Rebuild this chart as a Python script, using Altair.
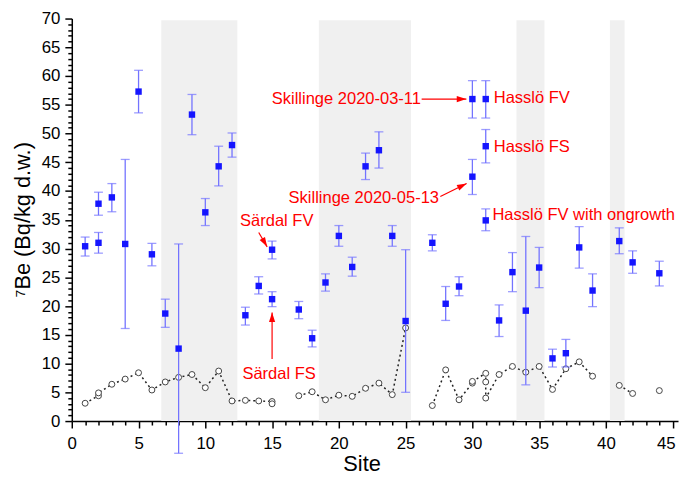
import altair as alt
import pandas as pd

# ---- 7Be activity (blue squares with uncertainty) ----
b_site = [1, 2, 2, 3, 4, 5, 6, 7, 8, 9, 10, 11, 12, 13, 14, 15, 15, 17, 18, 19, 20, 21, 22, 23, 24, 25,
          27, 28, 29, 30, 30, 31, 31, 31, 32, 33, 34, 35, 36, 37, 38, 39, 41, 42, 44]
b_val = [30.4, 37.8, 31.0, 38.9, 30.8, 57.3, 29.0, 18.7, 12.6, 53.3, 36.3, 44.3, 48.0, 18.4, 23.5, 29.8, 21.2,
         19.4, 14.4, 24.1, 32.2, 26.8, 44.3, 47.1, 32.2, 17.4, 31.0, 20.4, 23.4, 56.0, 42.5, 56.0, 47.8, 34.9,
         17.5, 25.9, 19.2, 26.7, 10.9, 11.8, 30.2, 22.7, 31.3, 27.6, 25.7]
b_lo = [28.7, 35.8, 29.2, 36.4, 16.1, 53.6, 27.0, 16.3, -5.6, 49.8, 34.0, 40.9, 45.9, 16.7, 22.1, 28.2, 19.9,
        17.8, 12.9, 22.6, 30.4, 25.2, 42.0, 44.0, 30.4, 5.0, 29.6, 17.5, 21.8, 52.7, 39.4, 52.7, 44.9, 33.1,
        14.7, 22.5, 6.3, 23.2, 9.4, 9.4, 26.6, 19.9, 29.1, 25.7, 23.5]
b_hi = [32.0, 39.8, 32.8, 41.3, 45.5, 61.0, 30.9, 21.2, 30.8, 56.8, 38.7, 47.8, 50.1, 19.8, 25.1, 31.3, 22.5,
        20.8, 15.8, 25.6, 34.0, 28.5, 46.6, 50.3, 34.0, 29.8, 32.4, 23.4, 25.1, 59.2, 45.5, 59.2, 50.7, 36.9,
        20.2, 29.3, 32.1, 30.2, 12.5, 14.2, 33.8, 25.6, 33.6, 29.6, 27.8]

# ---- open circles joined by dotted line ----
c_site = [1, 2, 2, 3, 4, 5, 6, 7, 8, 9, 10, 11, 12, 13, 14, 15, 15,
          17, 18, 19, 20, 21, 22, 23, 24, 25,
          27, 28, 29, 30, 30, 31, 31, 31, 32, 33, 34, 35, 36, 37, 38, 39,
          41, 42,
          44]
c_val = [3.1, 4.4, 4.9, 6.4, 7.3, 8.4, 5.4, 6.8, 7.6, 8.1, 5.8, 8.7, 3.5, 3.6, 3.5, 3.4, 3.0,
         4.4, 5.1, 3.7, 4.5, 4.3, 5.7, 6.6, 4.6, 16.2,
         2.7, 8.9, 3.7, 6.6, 6.9, 8.3, 6.8, 4.0, 8.1, 9.5, 8.5, 9.5, 5.5, 9.1, 10.3, 7.8,
         6.2, 4.8,
         5.3]
c_seg = ["A"] * 17 + ["B"] * 9 + ["C"] * 16 + ["D"] * 2 + ["E"]

# ---- shaded site groups ----
band_start = [6.7, 18.5, 33.3, 40.3]
band_end = [12.4, 25.4, 35.4, 41.4]
band_top = [69.7, 69.7, 69.7, 69.7]

# ---- annotations ----
ann_text = ["Skillinge 2020-03-11", "Skillinge 2020-05-13", "Hasslö FV", "Hasslö FS",
            "Hasslö FV with ongrowth", "Särdal FV", "Särdal FS"]
ann_x = [26.15, 27.5, 31.6, 31.6, 31.5, 12.6, 12.78]
ann_y = [56.0, 38.75, 56.15, 47.6, 35.8, 34.8, 8.26]
ann_align = ["right", "right", "left", "left", "left", "left", "left"]

arr_x0 = [26.2, 27.6, 14.0, 15.0]
arr_y0 = [56.0, 39.05, 32.8, 10.8]
arr_x1 = [29.55, 29.57, 14.63, 15.0]
arr_y1 = [56.0, 41.3, 30.3, 18.9]
arr_angle = [90, 64, 150, 0]

blue = pd.DataFrame({"site": b_site, "val": b_val, "lo": b_lo, "hi": b_hi})
circ = pd.DataFrame({"site": c_site, "val": c_val, "seg": c_seg, "ord": list(range(len(c_site)))})
bands = pd.DataFrame({"x0": band_start, "x1": band_end, "top": band_top, "bot": [0] * 4})
ann = pd.DataFrame({"text": ann_text, "x": ann_x, "y": ann_y, "al": ann_align})
arr = pd.DataFrame({"x0": arr_x0, "y0": arr_y0, "x1": arr_x1, "y1": arr_y1, "ang": arr_angle})

FONT = "Liberation Sans"
xscale = alt.Scale(domain=[0, 45.4], nice=False, zero=False)
yscale = alt.Scale(domain=[0, 70], nice=False)

xaxis = alt.Axis(
    values=list(range(0, 46)),
    labelExpr="datum.value % 5 === 0 ? datum.label : ''",
    tickSize={"condition": {"test": "datum.value % 5 === 0", "value": 7}, "value": 4},
    labelOffset={"condition": {"test": "datum.value === 45", "value": -7}, "value": 0},
    labelPadding=8, labelOverlap=False, labelFlush=False,
    title="Site", titleX=293, titleY=43, titleBaseline="middle", titleAlign="center",
)
yaxis = alt.Axis(
    values=list(range(0, 71)),
    labelExpr="datum.value % 5 === 0 ? datum.label : ''",
    tickSize={"condition": {"test": "datum.value % 5 === 0", "value": 7}, "value": 4},
    labelPadding=5, labelOverlap=False, labelFlush=False,
    title="⁷Be (Bq/kg d.w.)", titleX=-50, titleY=203, titleBaseline="middle", titleAlign="center",
    titleAngle=270,
)

X = lambda f: alt.X(f, type="quantitative", scale=xscale, axis=xaxis)
Y = lambda f: alt.Y(f, type="quantitative", scale=yscale, axis=yaxis)

band_layer = alt.Chart(bands).mark_rect(color="#f0f0f0").encode(
    x=X("x0"), x2="x1", y=Y("bot"), y2="top")

line_layer = alt.Chart(circ).mark_line(color="#222222", strokeDash=[2, 3], strokeWidth=1.5).encode(
    x=X("site"), y=Y("val"), detail="seg:N", order="ord:Q")

circ_layer = alt.Chart(circ).mark_point(shape="circle", filled=True, fill="white", stroke="#444444",
                                        strokeWidth=1, size=36, opacity=1).encode(
    x=X("site"), y=Y("val"))

err_rule = alt.Chart(blue).mark_rule(color="#7373ff", strokeWidth=1.3).encode(
    x=X("site"), y=Y("lo"), y2="hi")
cap_lo = alt.Chart(blue).mark_tick(color="#7373ff", orient="horizontal", size=9, thickness=1.3).encode(
    x=X("site"), y=Y("lo"))
cap_hi = alt.Chart(blue).mark_tick(color="#7373ff", orient="horizontal", size=9, thickness=1.3).encode(
    x=X("site"), y=Y("hi"))
sq_layer = alt.Chart(blue).mark_square(color="#1515ff", size=42, opacity=1).encode(
    x=X("site"), y=Y("val"))

arrow_shaft = alt.Chart(arr).mark_rule(color="#ff0000", strokeWidth=1.2).encode(
    x=X("x0"), y=Y("y0"), x2="x1", y2="y1")
arrow_head = alt.Chart(arr).mark_point(shape="M0,0L-0.32,1L0.32,1Z", filled=True, color="#ff0000",
                                       size=380, opacity=1).encode(
    x=X("x1"), y=Y("y1"), angle=alt.Angle("ang:Q", scale=None))

txt_left = alt.Chart(ann).transform_filter("datum.al === 'left'").mark_text(
    align="left", baseline="middle", font=FONT, fontSize=16.7, color="#ff0000").encode(
    x=X("x"), y=Y("y"), text="text:N")
txt_right = alt.Chart(ann).transform_filter("datum.al === 'right'").mark_text(
    align="right", baseline="middle", font=FONT, fontSize=16.7, color="#ff0000").encode(
    x=X("x"), y=Y("y"), text="text:N")

chart = alt.layer(
    band_layer, line_layer, circ_layer, err_rule, cap_lo, cap_hi, sq_layer,
    arrow_shaft, arrow_head, txt_left, txt_right
).properties(
    width=613, height=407,
    autosize=alt.AutoSizeParams(type="none"),
    padding={"left": 64.5, "top": 8, "right": 2, "bottom": 64},
).configure_view(stroke=None).configure_axis(
    grid=False, domainColor="black", tickColor="black", labelColor="black", titleColor="black",
    domainWidth=1.5, tickWidth=1.5, labelFont=FONT, titleFont=FONT, labelFontSize=17,
    titleFontSize=22, titleFontWeight="normal",
)

chart.save("out.html", embed_options={"renderer": "svg", "actions": False})
